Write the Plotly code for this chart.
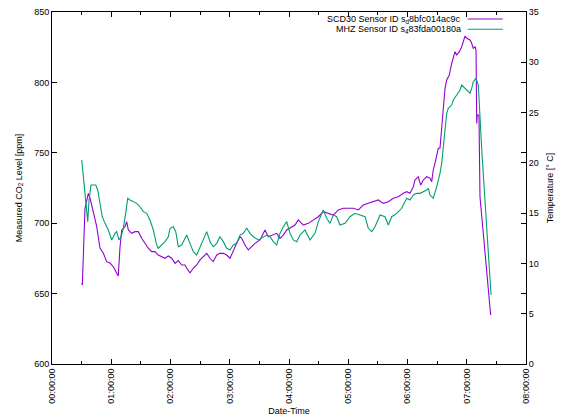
import plotly.graph_objects as go
import pandas as pd

# time in minutes since 00:00:00, CO2 in ppm
scd_min = [30.1, 30.7, 33.4, 36.8, 38.5, 41.8, 45.3, 48.6, 51.9, 55.4, 58.7, 62.1, 65.5, 67.1,
           68.9, 70.6, 73.9, 75.6, 77.3, 80.7, 84.1, 87.4, 90.8, 94.2, 97.5, 101.0, 104.3, 107.6,
           111.1, 114.4, 117.8, 121.2, 124.6, 127.9, 131.3, 134.7, 136.4, 139.7, 143.1, 146.5,
           149.9, 153.2, 156.7, 160.0, 163.3, 166.8, 170.1, 173.5, 176.9, 180.3, 183.6, 187.0,
           190.4, 192.1, 195.4, 198.8, 202.2, 205.6, 210.6, 215.7, 219.0, 224.1, 227.5, 230.9,
           234.2, 237.7, 241.0, 246.1, 249.4, 254.5, 259.5, 264.6, 269.7, 274.7, 279.8, 284.9,
           289.9, 295.0, 300.1, 305.1, 310.2, 315.2, 320.3, 325.4, 330.4, 335.5, 340.6, 345.6,
           350.7, 355.8, 359.2, 362.5, 365.9, 367.6, 370.9, 373.4, 376.0, 379.4, 382.8, 384.5,
           386.1, 387.8, 389.6, 391.2, 392.9, 394.6, 396.3, 398.0, 399.7, 402.3, 404.8, 406.4,
           408.1, 409.8, 412.5, 414.9, 416.5, 418.2, 420.0, 423.3, 425.0, 426.6, 428.4, 429.4,
           430.1, 430.7, 432.4, 433.4, 444.2]
scd_ppm = [657.3, 656.1, 710.6, 721.2, 717.9, 707.2, 697.5, 682.4, 678.8, 672.7, 671.7, 669.1, 664.4, 662.5,
           683.3, 695.2, 697.5, 701.1, 695.2, 692.8, 694.0, 694.0, 689.3, 685.7, 682.2, 679.8, 679.8, 677.4,
           676.2, 675.1, 676.7, 675.1, 671.5, 673.4, 670.3, 670.3, 668.0, 664.8, 668.0, 670.3,
           673.9, 676.2, 678.6, 675.1, 672.7, 677.4, 678.6, 678.6, 677.4, 675.1, 681.0, 685.7,
           690.4, 689.3, 684.5, 681.0, 683.3, 685.7, 688.1, 695.2, 690.4, 691.6, 692.8, 689.3,
           691.6, 695.2, 696.4, 698.7, 702.3, 698.7, 699.9, 702.3, 704.6, 708.2, 707.0, 705.8,
           709.4, 710.6, 710.6, 710.6, 709.4, 712.9, 714.1, 715.3, 716.5, 714.1, 715.3, 717.7,
           718.8, 721.2, 722.4, 721.2, 725.9, 730.7, 733.0, 727.1, 730.7, 733.0, 731.9, 729.5,
           737.8, 742.5, 749.6, 753.2, 753.2, 766.2, 782.7, 795.8, 801.7, 805.2, 813.6, 817.1,
           821.8, 819.5, 821.8, 825.3, 828.9, 832.9, 831.3, 830.1, 827.8, 824.2, 825.3, 823.0,
           770.9, 776.8, 776.8, 718.8, 634.8]

mhz_min = [30.1, 31.7, 33.4, 35.1, 36.2, 37.5, 39.5, 41.8, 44.3, 46.3, 48.6, 50.9, 53.7, 57.0,
           60.5, 63.8, 65.5, 67.8, 69.9, 72.2, 74.6, 76.7, 79.0, 82.3, 85.8, 89.1, 92.5, 95.9,
           99.2, 102.6, 106.0, 107.6, 111.1, 114.4, 117.8, 119.5, 122.8, 125.3, 127.9, 131.3,
           133.0, 136.4, 139.7, 143.1, 146.5, 149.9, 153.2, 156.7, 160.0, 163.3, 166.8, 170.1,
           173.5, 176.9, 180.3, 183.6, 187.0, 190.4, 193.7, 197.2, 200.5, 203.9, 208.9, 214.0,
           217.4, 220.8, 224.1, 227.5, 230.9, 234.2, 237.7, 241.0, 244.4, 247.8, 251.1, 256.2,
           261.3, 266.3, 269.7, 274.7, 278.2, 281.5, 284.9, 288.3, 291.6, 296.7, 301.8, 306.8,
           311.9, 317.0, 320.3, 323.8, 327.1, 332.2, 337.2, 340.6, 344.0, 349.1, 354.1, 359.2,
           362.5, 365.9, 369.3, 372.7, 376.0, 379.4, 381.1, 382.8, 386.1, 387.8, 389.6, 392.9,
           394.6, 396.3, 398.0, 399.7, 401.3, 404.8, 406.4, 409.8, 413.2, 414.9, 418.2, 421.6,
           423.3, 425.0, 426.6, 429.4, 431.7, 435.2, 440.2, 444.6]
mhz_ppm = [744.9, 733.0, 716.5, 704.6, 701.1, 716.5, 727.1, 727.1, 727.1, 723.6, 714.1, 704.6, 699.9, 695.2,
           688.1, 692.8, 694.0, 688.1, 690.4, 696.4, 707.0, 717.7, 716.5, 715.3, 714.1, 711.7, 708.2, 707.0,
           702.3, 695.2, 684.5, 682.2, 684.5, 686.9, 690.4, 696.4, 697.5, 694.0, 683.3, 684.5,
           686.9, 691.6, 685.7, 679.8, 677.4, 683.3, 689.3, 694.0, 686.9, 683.3, 685.7, 690.4,
           686.9, 682.2, 681.0, 684.5, 685.7, 691.6, 692.8, 696.4, 692.8, 690.4, 688.1, 690.4,
           691.6, 690.4, 686.9, 684.5, 692.8, 697.5, 701.1, 692.8, 688.1, 686.9, 691.6, 695.2,
           688.1, 692.8, 701.1, 709.4, 703.5, 699.9, 705.8, 704.6, 698.7, 699.9, 704.6, 707.0,
           705.8, 704.6, 696.4, 694.0, 697.5, 705.8, 704.6, 698.7, 704.6, 707.0, 710.6, 717.7,
           716.5, 720.0, 721.2, 721.2, 722.4, 723.6, 724.8, 720.0, 717.7, 721.2, 725.9, 735.4,
           742.5, 754.3, 766.2, 778.0, 781.6, 783.9, 787.5, 791.0, 794.6, 798.1, 795.8, 793.4,
           792.3, 795.8, 800.5, 802.9, 798.1, 752.0, 695.2, 649.0]

x_tick_labels = ["00:00:00", "01:00:00", "02:00:00", "03:00:00", "04:00:00",
                 "05:00:00", "06:00:00", "07:00:00", "08:00:00"]
y_ticks = [600, 650, 700, 750, 800, 850]
y2_ticks = [0, 5, 10, 15, 20, 25, 30, 35]
series_names = ["SCD30 Sensor ID s<sub>d</sub>8bfc014ac9c", "MHZ Sensor ID s<sub>4</sub>83fda00180a"]
colors = ["#9400d3", "#009e73"]

base = pd.Timestamp("2000-01-01 00:00:00")
def to_time(mins):
    return [base + pd.Timedelta(minutes=m) for m in mins]

tick_vals = [base + pd.Timedelta(hours=h) for h in range(9)]

FONT = "Liberation Sans, Arial, sans-serif"
LW = 1.1
fig = go.Figure()
fig.add_trace(go.Scatter(x=to_time(scd_min), y=scd_ppm, mode="lines",
                         line=dict(color=colors[0], width=LW), showlegend=False))
fig.add_trace(go.Scatter(x=to_time(mhz_min), y=mhz_ppm, mode="lines",
                         line=dict(color=colors[1], width=LW), showlegend=False))
fig.add_trace(go.Scatter(x=[None], y=[None], yaxis="y2", showlegend=False, hoverinfo="skip"))

# custom legend (gnuplot style: text right-aligned, sample on the right)
for i, (name, col) in enumerate(zip(series_names, colors)):
    yy = 0.980 - i * 0.029
    fig.add_annotation(xref="paper", yref="paper", x=0.868, y=yy, text=name, showarrow=False,
                       xanchor="right", yanchor="middle", font=dict(family=FONT, size=9, color="#000"))
    fig.add_shape(type="line", xref="paper", yref="paper", x0=0.877, x1=0.951, y0=yy, y1=yy,
                  line=dict(color=col, width=LW))

fig.update_layout(
    width=561, height=419,
    margin=dict(l=52, r=35, t=12, b=55, autoexpand=False),
    paper_bgcolor="white", plot_bgcolor="white",
    font=dict(family=FONT, size=9, color="#000"),
    xaxis=dict(type="date", range=[tick_vals[0], tick_vals[-1]], automargin=False,
               tickvals=tick_vals, ticktext=x_tick_labels, tickangle=-90,
               ticks="inside", ticklen=5, tickcolor="#000", showline=True, linecolor="#000",
               linewidth=1, mirror="ticks", showgrid=False, zeroline=False,
               minor=dict(dtick=1800000, ticks="inside", ticklen=3, tickcolor="#000"),
               title=dict(text="Date-Time", font=dict(size=9), standoff=5),
               tickfont=dict(size=9)),
    yaxis=dict(range=[600, 850], tickvals=y_ticks, ticks="inside", ticklen=5, tickcolor="#000",
               automargin=False,
               showline=True, linecolor="#000", linewidth=1, mirror="ticks", showgrid=False,
               zeroline=False, title=dict(text="Measured CO<sub>2</sub> Level [ppm]", font=dict(size=9), standoff=10),
               tickfont=dict(size=9)),
    yaxis2=dict(range=[0, 35], tickvals=y2_ticks, overlaying="y", side="right", ticks="inside",
                automargin=False,
                ticklen=5, tickcolor="#000", showline=True, linecolor="#000", linewidth=1,
                showgrid=False, zeroline=False,
                title=dict(text="Temperature [° C]", font=dict(size=9), standoff=8),
                tickfont=dict(size=9)),
)

fig.write_html("out.html", config={"displayModeBar": False},
               post_script="document.body.style.margin='0';document.body.style.padding='0';")
